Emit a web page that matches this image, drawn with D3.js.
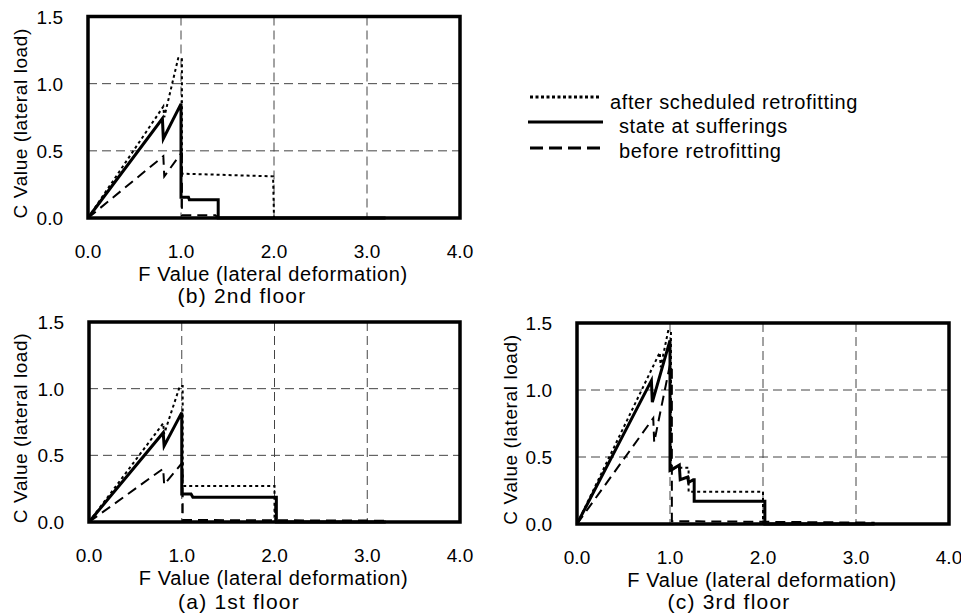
<!DOCTYPE html>
<html><head><meta charset="utf-8">
<script src="https://cdn.jsdelivr.net/npm/d3@7"></script>
<style>
body{margin:0;background:#fff}
svg{display:block}
text{font-family:"Liberation Sans",Arial,sans-serif;fill:#000}
</style>
</head><body>
<svg id="chart" width="961" height="614"></svg>
<script>
// ---- data ----
const xTicks = [0, 1, 2, 3, 4];
const xTickLabels = ["0.0", "1.0", "2.0", "3.0", "4.0"];
const yTicks = [0, 0.5, 1.0, 1.5];
const yTickLabels = ["0.0", "0.5", "1.0", "1.5"];
const xTitle = "F Value (lateral deformation)";
const yTitle = "C Value (lateral load)";
const seriesNames = ["after scheduled retrofitting", "state at sufferings", "before retrofitting"];
const panelTitles = ["(b) 2nd floor", "(a) 1st floor", "(c) 3rd floor"];

// 2nd floor  [F, C]
const floor2After  = [[0,0],[0.81,0.83],[0.82,0.75],[0.97,1.19],[1.01,1.19],[1.01,0.33],[1.99,0.31],[2.0,0],[3.2,0]];
const floor2State  = [[0,0],[0.80,0.74],[0.81,0.59],[1.0,0.85],[1.0,0.155],[1.08,0.155],[1.09,0.135],[1.40,0.135],[1.40,0],[3.2,0]];
const floor2Before = [[0,0],[0.81,0.46],[0.82,0.31],[1.0,0.48],[1.01,0.48],[1.01,0.02],[1.37,0.02],[1.40,0],[3.2,0]];
// 1st floor
const floor1After  = [[0,0],[0.80,0.74],[0.81,0.66],[0.98,1.02],[1.01,1.02],[1.01,0.27],[2.0,0.27],[2.0,0],[3.2,0]];
const floor1State  = [[0,0],[0.80,0.67],[0.81,0.57],[1.0,0.82],[1.0,0.21],[1.1,0.21],[1.12,0.185],[2.02,0.185],[2.02,0],[3.2,0]];
const floor1Before = [[0,0],[0.80,0.40],[0.81,0.28],[1.0,0.44],[1.01,0.44],[1.01,0.015],[3.2,0.01]];
// 3rd floor
const floor3After  = [[0,0],[0.89,1.28],[0.90,1.17],[0.98,1.44],[1.01,1.44],[1.01,0.42],[1.20,0.42],[1.20,0.24],[2.0,0.24],[2.0,0],[3.2,0]];
const floor3State  = [[0,0],[0.80,1.07],[0.81,0.91],[1.0,1.37],[1.0,0.40],[1.03,0.41],[1.10,0.44],[1.11,0.33],[1.19,0.35],[1.20,0.31],[1.25,0.33],[1.26,0.33],[1.26,0.17],[2.02,0.17],[2.02,0],[3.2,0]];
const floor3Before = [[0,0],[0.82,0.79],[0.83,0.61],[1.0,1.19],[1.02,1.19],[1.02,0.02],[1.3,0.02],[3.2,0.01]];

// ---- layout / style ----
const svg = d3.select("#chart");
const styles = [
  {w: 2,   dash: "3,3"},
  {w: 3,   dash: null},
  {w: 2,   dash: "10,6"}
];
const panels = [
  {l: 88, r: 460, t: 16.5, b: 218, title: panelTitles[0], tx: 242, ty: 303, ytx: 27, data: [floor2After, floor2State, floor2Before]},
  {l: 89, r: 460, t: 322, b: 522, title: panelTitles[1], tx: 239, ty: 609, ytx: 27, data: [floor1After, floor1State, floor1Before]},
  {l: 577, r: 949, t: 323, b: 524, title: panelTitles[2], tx: 729, ty: 609, ytx: 517, data: [floor3After, floor3State, floor3Before]}
];

function stext(g, x, y, str, size, anchor, ls, rot) {
  return g.append("text")
    .attr("transform", `translate(${x},${y})` + (rot ? " rotate(-90)" : ""))
    .attr("text-anchor", anchor)
    .attr("font-size", size)
    .attr("letter-spacing", ls)
    .text(str);
}

panels.forEach(p => {
  const x = d3.scaleLinear().domain([0, 4]).range([p.l, p.r]);
  const y = d3.scaleLinear().domain([0, 1.5]).range([p.b, p.t]);
  const g = svg.append("g");
  // grid
  g.selectAll(".gx").data(xTicks.slice(1, -1)).join("line")
    .attr("x1", d => x(d)).attr("x2", d => x(d)).attr("y1", p.t).attr("y2", p.b)
    .attr("stroke", "#444").attr("stroke-width", 1).attr("stroke-dasharray", "9,5");
  g.selectAll(".gy").data(yTicks.slice(1, -1)).join("line")
    .attr("y1", d => y(d)).attr("y2", d => y(d)).attr("x1", p.l).attr("x2", p.r)
    .attr("stroke", "#444").attr("stroke-width", 1).attr("stroke-dasharray", "9,5");
  // series
  const line = d3.line().x(d => x(d[0])).y(d => y(d[1]));
  p.data.forEach((ser, i) => {
    g.append("path").datum(ser).attr("d", line)
      .attr("fill", "none").attr("stroke", "#000")
      .attr("stroke-width", styles[i].w)
      .attr("stroke-dasharray", styles[i].dash)
      .attr("stroke-linejoin", "miter");
  });
  // frame
  g.append("rect").attr("x", p.l).attr("y", p.t).attr("width", p.r - p.l).attr("height", p.b - p.t)
    .attr("fill", "none").attr("stroke", "#000").attr("stroke-width", 3.5);
  // tick labels
  xTicks.forEach((t, i) => stext(g, x(t), p.b + 40, xTickLabels[i], 19, "middle", 0));
  yTicks.forEach((t, i) => stext(g, p.l - 25, y(t) + 7, yTickLabels[i], 19, "end", 0));
  // axis titles
  stext(g, (p.l + p.r) / 2 - 1, p.b + 63, xTitle, 20, "middle", 0.6);
  stext(g, p.ytx, (p.t + p.b) / 2 + 6, yTitle, 19, "middle", 0.6, true);
  stext(g, p.tx, p.ty, p.title, 21, "middle", 1.2);
});

// legend
const leg = svg.append("g");
const legendY = [97, 122, 148];
const legendTextY = [109, 133, 158];
const legendTextX = [610, 619, 619];
const legendDash = ["3,2.5", null, "13,6"];
seriesNames.forEach((n, i) => {
  leg.append("line").attr("x1", i === 1 ? 528 : 530).attr("x2", i === 1 ? 603 : 601)
    .attr("y1", legendY[i]).attr("y2", legendY[i])
    .attr("stroke", "#000").attr("stroke-width", 3)
    .attr("stroke-dasharray", legendDash[i]);
  stext(leg, legendTextX[i], legendTextY[i], n, 20, "start", 0.6);
});
</script>
</body></html>
